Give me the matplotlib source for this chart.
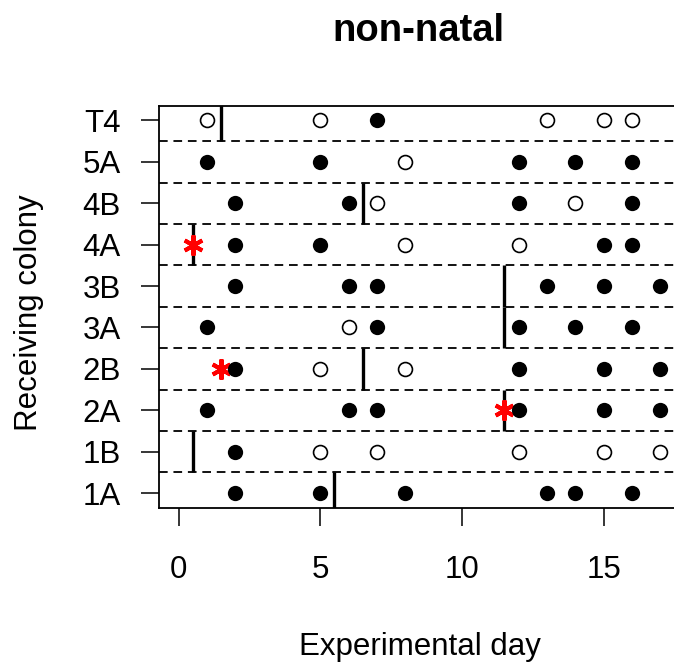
import matplotlib
matplotlib.use("Agg")
import matplotlib.pyplot as plt

plt.rcParams['font.family'] = ['Liberation Sans', 'DejaVu Sans']

# ---- data ----
colonies = ['1A', '1B', '2A', '2B', '3A', '3B', '4A', '4B', '5A', 'T4']
obs_days = [
    [2, 5, 8, 13, 14, 16],      # 1A
    [2, 5, 7, 12, 15, 17],      # 1B
    [1, 6, 7, 12, 15, 17],      # 2A
    [2, 5, 8, 12, 15, 17],      # 2B
    [1, 6, 7, 12, 14, 16],      # 3A
    [2, 6, 7, 13, 15, 17],      # 3B
    [2, 5, 8, 12, 15, 16],      # 4A
    [2, 6, 7, 12, 14, 16],      # 4B
    [1, 5, 8, 12, 14, 16],      # 5A
    [1, 5, 7, 13, 15, 16],      # T4
]
obs_filled = [
    [1, 1, 1, 1, 1, 1],
    [1, 0, 0, 0, 0, 0],
    [1, 1, 1, 1, 1, 1],
    [1, 0, 0, 1, 1, 1],
    [1, 0, 1, 1, 1, 1],
    [1, 1, 1, 1, 1, 1],
    [1, 1, 0, 0, 1, 1],
    [1, 1, 0, 1, 0, 1],
    [1, 1, 0, 1, 1, 1],
    [0, 0, 1, 0, 0, 0],
]
switch_day = [5.5, 0.5, 11.5, 6.5, 11.5, 11.5, 0.5, 6.5, None, 1.5]
star_colony = ['4A', '2B', '2A']
star_day = [0.5, 1.5, 11.5]
x_ticks = [0, 5, 10, 15]

# ---- figure ----
W, H = 674, 664
fig = plt.figure(figsize=(W / 100, H / 100), dpi=100)
left_px, right_px, top_px, bot_px = 159.3, 679.6, 105.5, 508
ax = fig.add_axes([left_px / W, 1 - bot_px / H, (right_px - left_px) / W, (bot_px - top_px) / H])

ax.set_xlim(-0.68, 17.68)
ax.set_ylim(0.64, 10.36)

ypos = list(range(1, len(colonies) + 1))

# dashed separators
for k in range(1, len(colonies)):
    ax.axhline(k + 0.5, color='black', lw=1.3, dashes=(4.8, 3.2), zorder=1)

# vertical switch lines
for y, d in zip(ypos, switch_day):
    if d is not None:
        ax.vlines(d, y - 0.5, y + 0.5, color='black', lw=2.4, zorder=2)

# red asterisks
for c, d in zip(star_colony, star_day):
    y = colonies.index(c) + 1
    ax.plot(d, y, marker=(6, 2, 0), color='red', ms=14.5, mew=2.9, ls='none', zorder=3)

# observation points
for y, days, fl in zip(ypos, obs_days, obs_filled):
    fx = [d for d, f in zip(days, fl) if f]
    ox = [d for d, f in zip(days, fl) if not f]
    ax.plot(fx, [y] * len(fx), 'o', color='black', ms=11.0, mew=0, ls='none', zorder=4)
    ax.plot(ox, [y] * len(ox), 'o', mfc='white', mec='black', ms=10.0, mew=1.2, ls='none', zorder=4)

ax.set_yticks(ypos)
ax.set_yticklabels(colonies)
ax.set_xticks(x_ticks)
ax.set_xticklabels([str(t) for t in x_ticks])
ax.tick_params(axis='both', direction='out', length=13.2, width=1.1, labelsize=22.5, color='black')
ax.tick_params(axis='y', pad=14.4)
ax.tick_params(axis='x', pad=20.5)
for s in ax.spines.values():
    s.set_linewidth(1.3)

fig.text(418 / W, 1 - 41 / H, 'non-natal', fontsize=27.5, fontweight='bold', ha='center', va='baseline')
fig.text(419.5 / W, 1 - 655 / H, 'Experimental day', fontsize=22.5, ha='center', va='baseline')
fig.text(37 / W, 1 - 313 / H, 'Receiving colony', fontsize=22.5, rotation=90,
         rotation_mode='anchor', ha='center', va='baseline')

fig.savefig('out.png', dpi=100)
